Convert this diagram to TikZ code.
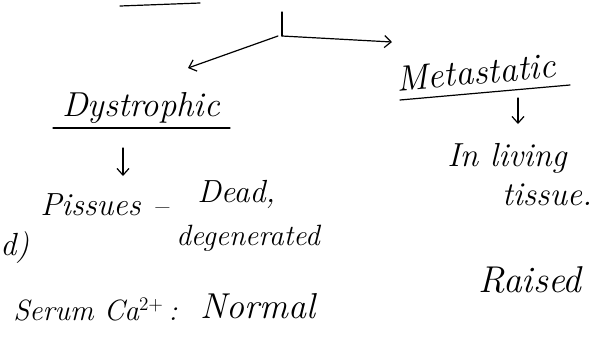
\documentclass[tikz,border=0pt]{standalone}
\usepackage{tikz}
\usetikzlibrary{arrows.meta,positioning}

\begin{document}
\begin{tikzpicture}[
  x=0.75pt, y=-0.75pt,
  hw/.style={inner sep=0pt, font=\fontsize{24}{28}\selectfont\itshape},
  ink/.style={line width=0.9pt, line cap=round, line join=round},
  arr/.style={ink, -{Straight Barb[length=5pt,width=9pt]}}
]
\useasboundingbox (0,0) rectangle (612,340);
% branch from the cut-off heading
\coordinate (hd1) at (120,6);
\coordinate (hd2) at (200,3);
\draw[ink] (hd1) -- (hd2);
\coordinate (top) at (282,12);
\coordinate (split) at (282,36);
\coordinate (toR) at (392,42);
\coordinate (toL) at (188,68);
\draw[ink] (top) -- (split);
\draw[arr] (split) -- (toR);
\draw[arr] ([xshift=-3pt]split) -- (toL);

% right branch
\node[hw, rotate=5, font=\fontsize{27}{30}\selectfont\itshape] (meta) at (476,72) {Metastatic};
\coordinate (mu1) at (400,100);
\coordinate (mu2) at (570,85);
\draw[ink] (mu1) -- (mu2);
\coordinate (ma1) at (518,98);
\coordinate (ma2) at (518,124);
\draw[arr] (ma1) -- (ma2);
\node[hw, font=\fontsize{25}{28}\selectfont\itshape] (living) at (507,158) {In living};
\node[hw, font=\fontsize{25}{28}\selectfont\itshape] (tissue) at (547,195) {tissue.};
\node[hw, font=\fontsize{28}{30}\selectfont\itshape] (raised) at (530,280) {Raised};

% left branch
\node[hw, font=\fontsize{26}{30}\selectfont\itshape] (dys) at (141,108) {Dystrophic};
\coordinate (du1) at (53,128);
\coordinate (du2) at (230,128);
\draw[ink] (du1) -- (du2);
\coordinate (da1) at (123,148);
\coordinate (da2) at (123,176);
\draw[arr] (da1) -- (da2);
\node[hw, anchor=west] (pis) at (40,205) {Pissues};
\node[hw, anchor=west] (dash) at (152,212) {--};
\node[hw, anchor=west] (dead) at (197,194) {Dead,};
\node[hw, font=\fontsize{22}{24}\selectfont\itshape] (degen) at (248,238) {degenerated};
\node[hw, anchor=west] (dpar) at (0,248) {d)};
\node[hw, anchor=west, font=\fontsize{22}{26}\selectfont\itshape] (serum) at (13,310) {Serum Ca$^{2+}$\,:};
\node[hw, anchor=west, font=\fontsize{27}{30}\selectfont\itshape] (normal) at (200,306) {Normal};
\end{tikzpicture}
\end{document}
